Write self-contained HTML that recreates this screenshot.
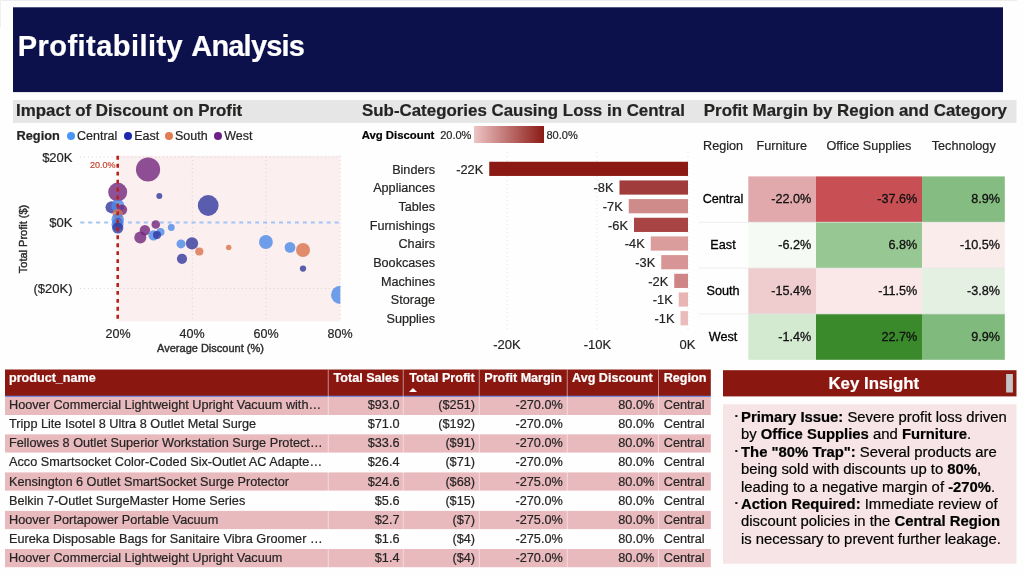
<!DOCTYPE html>
<html lang="en"><head><meta charset="utf-8"><title>Profitability Analysis</title>
<style>
html,body{margin:0;padding:0;background:#fefefe;}
body{width:1024px;height:577px;position:relative;overflow:hidden;font-family:"Liberation Sans",sans-serif;}
.t{position:absolute;white-space:nowrap;line-height:20px;height:20px;-webkit-text-stroke:0.2px currentColor;}
.b{position:absolute;}
.sx{display:inline-block;transform-origin:0 50%;}
</style></head><body>

<svg class="b" style="left:0;top:0" width="1024" height="577" viewBox="0 0 1024 577">
<rect x="0" y="0" width="1017" height="1" fill="#ededed"/>
<rect x="0" y="0" width="1" height="27" fill="#f0f0f0"/>
<rect x="13" y="7.3" width="990" height="84.8" fill="#0c114b"/>
<rect x="13" y="100.1" width="1003.5" height="22.8" fill="#e6e6e6"/>
<rect x="5" y="369.5" width="705.8" height="26.6" fill="#8a1811"/>
<rect x="5" y="395.75" width="705.8" height="1.25" fill="#5b80e0"/>
<rect x="5" y="396.80" width="705.8" height="18.2" fill="#e8b9bd"/>
<rect x="5" y="434.35" width="705.8" height="18.2" fill="#e8b9bd"/>
<rect x="5" y="472.40" width="705.8" height="18.2" fill="#e8b9bd"/>
<rect x="5" y="510.90" width="705.8" height="18.2" fill="#e8b9bd"/>
<rect x="5" y="549.00" width="705.8" height="18.2" fill="#e8b9bd"/>
<rect x="327.75" y="369.5" width="1" height="198" fill="rgb(255,255,255)" fill-opacity="0.5"/>
<rect x="402.75" y="369.5" width="1" height="198" fill="rgb(255,255,255)" fill-opacity="0.5"/>
<rect x="478.75" y="369.5" width="1" height="198" fill="rgb(255,255,255)" fill-opacity="0.5"/>
<rect x="566.75" y="369.5" width="1" height="198" fill="rgb(255,255,255)" fill-opacity="0.5"/>
<rect x="658.0" y="369.5" width="1" height="198" fill="rgb(255,255,255)" fill-opacity="0.5"/>
<rect x="723" y="370.2" width="293.5" height="26.2" fill="#8a1811"/>
<rect x="1006.1" y="374" width="6.8" height="18.5" fill="#c4c4c4"/>
<rect x="723" y="404.3" width="293.5" height="159.4" fill="#f6e4e6"/>
</svg>
<div class="t title" style="left:17.8px;top:36.2px;font-size:29px;font-weight:bold;color:#fff;"><span style="letter-spacing:0.45px">Profitability</span> <span style="letter-spacing:-0.8px">Analysis</span></div>
<div class="t " style="left:16.1px;top:100.5px;font-size:16.9px;font-weight:bold;color:#252423;">Impact of Discount on Profit</div>
<div class="t " style="left:362px;top:100.5px;font-size:16.9px;font-weight:bold;color:#252423;">Sub-Categories Causing Loss in Central</div>
<div class="t " style="left:703.8px;top:100.5px;font-size:16.9px;font-weight:bold;color:#252423;">Profit Margin by Region and Category</div>
<div class="t " style="left:16.5px;top:126.0px;font-size:12.8px;font-weight:bold;color:#252423;">Region</div>
<div class="b" style="left:67.25px;top:132px;width:8px;height:8px;border-radius:50%;background:#4a96f8"></div>
<div class="t " style="left:77px;top:126.0px;font-size:12.5px;color:#252423;">Central</div>
<div class="b" style="left:123.5px;top:132px;width:8px;height:8px;border-radius:50%;background:#1a2aa8"></div>
<div class="t " style="left:134.25px;top:126.0px;font-size:12.5px;color:#252423;">East</div>
<div class="b" style="left:164.75px;top:132px;width:8px;height:8px;border-radius:50%;background:#e07b53"></div>
<div class="t " style="left:175px;top:126.0px;font-size:12.5px;color:#252423;">South</div>
<div class="b" style="left:213.5px;top:132px;width:8px;height:8px;border-radius:50%;background:#6f2088"></div>
<div class="t " style="left:224.25px;top:126.0px;font-size:12.5px;color:#252423;">West</div>
<svg class="b" style="left:0;top:0" width="1024" height="577" viewBox="0 0 1024 577">
<rect x="118" y="155.8" width="222.3" height="165.7" fill="#fbefef"/>
<line x1="80" y1="157.1" x2="340" y2="157.1" stroke="#dcd4d4" stroke-width="1" stroke-dasharray="1 2.95"/>
<line x1="80" y1="288.5" x2="340" y2="288.5" stroke="#dcd4d4" stroke-width="1" stroke-dasharray="1 2.95"/>
<line x1="192.3" y1="156" x2="192.3" y2="321.5" stroke="#e0d0d0" stroke-width="1" stroke-dasharray="1 2.95"/>
<line x1="266.2" y1="156" x2="266.2" y2="321.5" stroke="#e0d0d0" stroke-width="1" stroke-dasharray="1 2.95"/>
<line x1="340.2" y1="156" x2="340.2" y2="321.5" stroke="#e0d0d0" stroke-width="1" stroke-dasharray="1 2.95"/>
<line x1="80.25" y1="222.5" x2="340" y2="222.5" stroke="#a3c3f6" stroke-width="2.2" stroke-dasharray="4 3.95"/>
<clipPath id="pc"><rect x="80" y="150" width="260.3" height="171.5"/></clipPath><g clip-path="url(#pc)">
<circle cx="148.05" cy="169.5" r="12.1" fill="#73257c" fill-opacity="0.8"/>
<circle cx="117.7" cy="192.1" r="9.5" fill="#73257c" fill-opacity="0.8"/>
<circle cx="159.3" cy="195.9" r="3.0" fill="#32379d" fill-opacity="0.8"/>
<circle cx="208.2" cy="205.5" r="10.4" fill="#32379d" fill-opacity="0.8"/>
<circle cx="111.6" cy="207.3" r="6.1" fill="#32379d" fill-opacity="0.8"/>
<circle cx="117.9" cy="206" r="6.6" fill="#4b88e8" fill-opacity="0.8"/>
<circle cx="122" cy="209.8" r="5.2" fill="#73257c" fill-opacity="0.8"/>
<circle cx="117.7" cy="214" r="5.2" fill="#d9734b" fill-opacity="0.8"/>
<circle cx="117.7" cy="219.3" r="6.2" fill="#4b88e8" fill-opacity="0.8"/>
<circle cx="118" cy="222.5" r="4.5" fill="#32379d" fill-opacity="0.8"/>
<circle cx="117.5" cy="224.5" r="6" fill="#4b88e8" fill-opacity="0.8"/>
<circle cx="117.7" cy="228" r="5.6" fill="#32379d" fill-opacity="0.8"/>
<circle cx="155.8" cy="224.5" r="4.3" fill="#73257c" fill-opacity="0.8"/>
<circle cx="144.9" cy="230.2" r="5.2" fill="#73257c" fill-opacity="0.8"/>
<circle cx="140.3" cy="237.5" r="6" fill="#73257c" fill-opacity="0.8"/>
<circle cx="171.3" cy="227.5" r="3.4" fill="#4b88e8" fill-opacity="0.8"/>
<circle cx="160.5" cy="232" r="4" fill="#4b88e8" fill-opacity="0.8"/>
<circle cx="153.6" cy="235.4" r="5.2" fill="#4b88e8" fill-opacity="0.8"/>
<circle cx="157" cy="235" r="4" fill="#32379d" fill-opacity="0.8"/>
<circle cx="181" cy="243.9" r="4.5" fill="#4b88e8" fill-opacity="0.8"/>
<circle cx="192" cy="243.3" r="6.15" fill="#32379d" fill-opacity="0.8"/>
<circle cx="199.3" cy="251.5" r="4.1" fill="#d9734b" fill-opacity="0.8"/>
<circle cx="182" cy="258.8" r="5.1" fill="#32379d" fill-opacity="0.8"/>
<circle cx="228.7" cy="247.5" r="2.7" fill="#d9734b" fill-opacity="0.8"/>
<circle cx="265.9" cy="242" r="6.9" fill="#4b88e8" fill-opacity="0.8"/>
<circle cx="290" cy="247.4" r="5.35" fill="#4b88e8" fill-opacity="0.8"/>
<circle cx="303" cy="250" r="7" fill="#d9734b" fill-opacity="0.8"/>
<circle cx="303" cy="268.6" r="3.15" fill="#32379d" fill-opacity="0.8"/>
<circle cx="340.1" cy="294.9" r="9.1" fill="#4b88e8" fill-opacity="0.8"/>
</g>
<line x1="117.7" y1="155.8" x2="117.7" y2="321.3" stroke="#b9221a" stroke-width="2.6" stroke-dasharray="3.9 4.05"/>
</svg>
<div class="t " style="right:951.5px;top:148.0px;font-size:13px;color:#252423;">$20K</div>
<div class="t " style="right:951.5px;top:213.0px;font-size:13px;color:#252423;">$0K</div>
<div class="t " style="right:951.5px;top:279.0px;font-size:13px;color:#252423;">($20K)</div>
<div class="t " style="left:-82px;width:400px;text-align:center;top:324.0px;font-size:12.5px;color:#252423;">20%</div>
<div class="t " style="left:-8px;width:400px;text-align:center;top:324.0px;font-size:12.5px;color:#252423;">40%</div>
<div class="t " style="left:66px;width:400px;text-align:center;top:324.0px;font-size:12.5px;color:#252423;">60%</div>
<div class="t " style="left:140px;width:400px;text-align:center;top:324.0px;font-size:12.5px;color:#252423;">80%</div>
<div class="t " style="left:10.5px;width:400px;text-align:center;top:337.8px;font-size:11.0px;color:#2c2c2c;-webkit-text-stroke:0.4px #2c2c2c;">Average Discount (%)</div>
<div class="t" style="left:-177px;width:400px;text-align:center;top:228.7px;font-size:11.0px;color:#2c2c2c;-webkit-text-stroke:0.4px #2c2c2c;transform:rotate(-90deg)">Total Profit ($)</div>
<div class="t " style="right:908.4px;top:154.9px;font-size:9px;color:#c4452f;">20.0%</div>
<div class="t " style="left:361.7px;top:125.0px;font-size:11.35px;font-weight:bold;color:#000;">Avg Discount</div>
<div class="t " style="left:440.2px;top:125.0px;font-size:11px;color:#252423;">20.0%</div>
<div class="b" style="left:474px;top:125.5px;width:70px;height:17.5px;background:linear-gradient(90deg,#eec4c4,#8b1a15)"></div>
<div class="t " style="left:546.5px;top:125.0px;font-size:11px;color:#252423;">80.0%</div>
<svg class="b" style="left:0;top:0" width="1024" height="577" viewBox="0 0 1024 577">
<line x1="507" y1="152" x2="507" y2="332" stroke="#e4e4e4" stroke-width="1" stroke-dasharray="1 3"/>
<line x1="597" y1="152" x2="597" y2="332" stroke="#e4e4e4" stroke-width="1" stroke-dasharray="1 3"/>
<line x1="688" y1="152" x2="688" y2="332" stroke="#e4e4e4" stroke-width="1" stroke-dasharray="1 3"/>
<rect x="489.25" y="161.75" width="198.75" height="14.2" fill="#8b1a15"/>
<rect x="619.5" y="180.42" width="68.5" height="14.2" fill="#a03c3b"/>
<rect x="628.75" y="199.09" width="59.25" height="14.2" fill="#cf8a8a"/>
<rect x="634" y="217.76" width="54" height="14.2" fill="#a84443"/>
<rect x="650.75" y="236.43" width="37.25" height="14.2" fill="#db9c9c"/>
<rect x="661.25" y="255.10" width="26.75" height="14.2" fill="#d89595"/>
<rect x="674.25" y="273.77" width="13.75" height="14.2" fill="#cf8585"/>
<rect x="678.75" y="292.44" width="9.25" height="14.2" fill="#e8b4b4"/>
<rect x="680.5" y="311.11" width="7.5" height="14.2" fill="#eabcbc"/>
</svg>
<div class="t " style="right:589px;top:159.6px;font-size:12.65px;color:#252423;">Binders</div>
<div class="t " style="right:540.75px;top:159.5px;font-size:12.8px;color:#252423;">-22K</div>
<div class="t " style="right:589px;top:178.27px;font-size:12.65px;color:#252423;">Appliances</div>
<div class="t " style="right:410.5px;top:178.17000000000002px;font-size:12.8px;color:#252423;">-8K</div>
<div class="t " style="right:589px;top:196.94px;font-size:12.65px;color:#252423;">Tables</div>
<div class="t " style="right:401.25px;top:196.84px;font-size:12.8px;color:#252423;">-7K</div>
<div class="t " style="right:589px;top:215.60999999999999px;font-size:12.65px;color:#252423;">Furnishings</div>
<div class="t " style="right:396px;top:215.51px;font-size:12.8px;color:#252423;">-6K</div>
<div class="t " style="right:589px;top:234.28px;font-size:12.65px;color:#252423;">Chairs</div>
<div class="t " style="right:379.25px;top:234.18px;font-size:12.8px;color:#252423;">-4K</div>
<div class="t " style="right:589px;top:252.95000000000005px;font-size:12.65px;color:#252423;">Bookcases</div>
<div class="t " style="right:368.75px;top:252.85000000000002px;font-size:12.8px;color:#252423;">-3K</div>
<div class="t " style="right:589px;top:271.62px;font-size:12.65px;color:#252423;">Machines</div>
<div class="t " style="right:355.75px;top:271.52px;font-size:12.8px;color:#252423;">-2K</div>
<div class="t " style="right:589px;top:290.29px;font-size:12.65px;color:#252423;">Storage</div>
<div class="t " style="right:351.25px;top:290.19px;font-size:12.8px;color:#252423;">-1K</div>
<div class="t " style="right:589px;top:308.96000000000004px;font-size:12.65px;color:#252423;">Supplies</div>
<div class="t " style="right:349.5px;top:308.86px;font-size:12.8px;color:#252423;">-1K</div>
<div class="t " style="left:307px;width:400px;text-align:center;top:334.5px;font-size:13px;color:#252423;">-20K</div>
<div class="t " style="left:397.5px;width:400px;text-align:center;top:334.5px;font-size:13px;color:#252423;">-10K</div>
<div class="t " style="left:487.5px;width:400px;text-align:center;top:334.5px;font-size:13px;color:#252423;">0K</div>
<div class="t " style="left:703px;top:135.8px;font-size:12.65px;color:#252423;">Region</div>
<div class="t " style="left:756.5px;top:135.8px;font-size:12.65px;color:#252423;">Furniture</div>
<div class="t " style="left:826.5px;top:135.8px;font-size:12.65px;color:#252423;">Office Supplies</div>
<div class="t " style="left:931.75px;top:135.8px;font-size:12.65px;color:#252423;">Technology</div>
<svg class="b" style="left:0;top:0" width="1024" height="577" viewBox="0 0 1024 577">
<rect x="748.3" y="176.4" width="67.70" height="45.85" fill="#e2a9ac"/>
<rect x="816" y="176.4" width="106.00" height="45.85" fill="#c85055"/>
<rect x="922" y="176.4" width="82.80" height="45.85" fill="#85bc81"/>
<rect x="748.3" y="222.25" width="67.70" height="45.85" fill="#f5faf4"/>
<rect x="816" y="222.25" width="106.00" height="45.85" fill="#97c792"/>
<rect x="922" y="222.25" width="82.80" height="45.85" fill="#fbecec"/>
<line x1="699" y1="222.25" x2="1005" y2="222.25" stroke="#e4e4e4" stroke-width="0.8" stroke-opacity="0.8"/>
<rect x="748.3" y="268.1" width="67.70" height="45.85" fill="#efccce"/>
<rect x="816" y="268.1" width="106.00" height="45.85" fill="#fae8e9"/>
<rect x="922" y="268.1" width="82.80" height="45.85" fill="#e4f0e2"/>
<line x1="699" y1="268.1" x2="1005" y2="268.1" stroke="#e4e4e4" stroke-width="0.8" stroke-opacity="0.8"/>
<rect x="748.3" y="313.95" width="67.70" height="45.85" fill="#d3e9d0"/>
<rect x="816" y="313.95" width="106.00" height="45.85" fill="#3a8a2c"/>
<rect x="922" y="313.95" width="82.80" height="45.85" fill="#80ba7c"/>
<line x1="699" y1="313.95" x2="1005" y2="313.95" stroke="#e4e4e4" stroke-width="0.8" stroke-opacity="0.8"/>
</svg>
<div class="t " style="left:523px;width:400px;text-align:center;top:188.825px;font-size:12.65px;color:#000;-webkit-text-stroke:0.3px #000;">Central</div>
<div class="t " style="right:212.70000000000005px;top:188.825px;font-size:12.65px;color:#111;-webkit-text-stroke:0.3px #111;">-22.0%</div>
<div class="t " style="right:106.70000000000005px;top:188.825px;font-size:12.65px;color:#111;-webkit-text-stroke:0.3px #111;">-37.6%</div>
<div class="t " style="right:23.90000000000009px;top:188.825px;font-size:12.65px;color:#111;-webkit-text-stroke:0.3px #111;">8.9%</div>
<div class="t " style="left:523px;width:400px;text-align:center;top:234.675px;font-size:12.65px;color:#000;-webkit-text-stroke:0.3px #000;">East</div>
<div class="t " style="right:212.70000000000005px;top:234.675px;font-size:12.65px;color:#111;-webkit-text-stroke:0.3px #111;">-6.2%</div>
<div class="t " style="right:106.70000000000005px;top:234.675px;font-size:12.65px;color:#111;-webkit-text-stroke:0.3px #111;">6.8%</div>
<div class="t " style="right:23.90000000000009px;top:234.675px;font-size:12.65px;color:#111;-webkit-text-stroke:0.3px #111;">-10.5%</div>
<div class="t " style="left:523px;width:400px;text-align:center;top:281.025px;font-size:12.65px;color:#000;-webkit-text-stroke:0.3px #000;">South</div>
<div class="t " style="right:212.70000000000005px;top:281.025px;font-size:12.65px;color:#111;-webkit-text-stroke:0.3px #111;">-15.4%</div>
<div class="t " style="right:106.70000000000005px;top:281.025px;font-size:12.65px;color:#111;-webkit-text-stroke:0.3px #111;">-11.5%</div>
<div class="t " style="right:23.90000000000009px;top:281.025px;font-size:12.65px;color:#111;-webkit-text-stroke:0.3px #111;">-3.8%</div>
<div class="t " style="left:523px;width:400px;text-align:center;top:326.575px;font-size:12.65px;color:#000;-webkit-text-stroke:0.3px #000;">West</div>
<div class="t " style="right:212.70000000000005px;top:326.575px;font-size:12.65px;color:#111;-webkit-text-stroke:0.3px #111;">-1.4%</div>
<div class="t " style="right:106.70000000000005px;top:326.575px;font-size:12.65px;color:#111;-webkit-text-stroke:0.3px #111;">22.7%</div>
<div class="t " style="right:23.90000000000009px;top:326.575px;font-size:12.65px;color:#111;-webkit-text-stroke:0.3px #111;">9.9%</div>
<div class="t " style="left:9px;top:368.3px;font-size:12.6px;font-weight:bold;color:#fff;">product_name</div>
<div class="t " style="left:333.5px;top:368.3px;font-size:12.6px;font-weight:bold;color:#fff;">Total Sales</div>
<div class="t " style="left:409.25px;top:368.3px;font-size:12.6px;font-weight:bold;color:#fff;">Total Profit</div>
<div class="t " style="left:484.25px;top:368.3px;font-size:12.6px;font-weight:bold;color:#fff;">Profit Margin</div>
<div class="t " style="left:572px;top:368.3px;font-size:12.6px;font-weight:bold;color:#fff;">Avg Discount</div>
<div class="t " style="left:663.75px;top:368.3px;font-size:12.6px;font-weight:bold;color:#fff;">Region</div>
<div class="b" style="left:409.25px;top:388px;width:0;height:0;border-left:4px solid transparent;border-right:4px solid transparent;border-bottom:4.5px solid #fff"></div>
<div class="t " style="left:9px;top:395.3px;font-size:12.7px;color:#252423;">Hoover Commercial Lightweight Upright Vacuum with…</div>
<div class="t " style="right:624.5px;top:395.3px;font-size:12.7px;color:#252423;">$93.0</div>
<div class="t " style="right:549px;top:395.3px;font-size:12.7px;color:#252423;">($251)</div>
<div class="t " style="right:461.25px;top:395.3px;font-size:12.7px;color:#252423;">-270.0%</div>
<div class="t " style="right:369.75px;top:395.3px;font-size:12.7px;color:#252423;">80.0%</div>
<div class="t " style="left:663.75px;top:395.3px;font-size:12.7px;color:#252423;">Central</div>
<div class="t " style="left:9px;top:414.3px;font-size:12.7px;color:#252423;">Tripp Lite Isotel 8 Ultra 8 Outlet Metal Surge</div>
<div class="t " style="right:624.5px;top:414.3px;font-size:12.7px;color:#252423;">$71.0</div>
<div class="t " style="right:549px;top:414.3px;font-size:12.7px;color:#252423;">($192)</div>
<div class="t " style="right:461.25px;top:414.3px;font-size:12.7px;color:#252423;">-270.0%</div>
<div class="t " style="right:369.75px;top:414.3px;font-size:12.7px;color:#252423;">80.0%</div>
<div class="t " style="left:663.75px;top:414.3px;font-size:12.7px;color:#252423;">Central</div>
<div class="t " style="left:9px;top:433.3px;font-size:12.7px;color:#252423;">Fellowes 8 Outlet Superior Workstation Surge Protect…</div>
<div class="t " style="right:624.5px;top:433.3px;font-size:12.7px;color:#252423;">$33.6</div>
<div class="t " style="right:549px;top:433.3px;font-size:12.7px;color:#252423;">($91)</div>
<div class="t " style="right:461.25px;top:433.3px;font-size:12.7px;color:#252423;">-270.0%</div>
<div class="t " style="right:369.75px;top:433.3px;font-size:12.7px;color:#252423;">80.0%</div>
<div class="t " style="left:663.75px;top:433.3px;font-size:12.7px;color:#252423;">Central</div>
<div class="t " style="left:9px;top:452.3px;font-size:12.7px;color:#252423;">Acco Smartsocket Color-Coded Six-Outlet AC Adapte…</div>
<div class="t " style="right:624.5px;top:452.3px;font-size:12.7px;color:#252423;">$26.4</div>
<div class="t " style="right:549px;top:452.3px;font-size:12.7px;color:#252423;">($71)</div>
<div class="t " style="right:461.25px;top:452.3px;font-size:12.7px;color:#252423;">-270.0%</div>
<div class="t " style="right:369.75px;top:452.3px;font-size:12.7px;color:#252423;">80.0%</div>
<div class="t " style="left:663.75px;top:452.3px;font-size:12.7px;color:#252423;">Central</div>
<div class="t " style="left:9px;top:472.3px;font-size:12.7px;color:#252423;">Kensington 6 Outlet SmartSocket Surge Protector</div>
<div class="t " style="right:624.5px;top:472.3px;font-size:12.7px;color:#252423;">$24.6</div>
<div class="t " style="right:549px;top:472.3px;font-size:12.7px;color:#252423;">($68)</div>
<div class="t " style="right:461.25px;top:472.3px;font-size:12.7px;color:#252423;">-275.0%</div>
<div class="t " style="right:369.75px;top:472.3px;font-size:12.7px;color:#252423;">80.0%</div>
<div class="t " style="left:663.75px;top:472.3px;font-size:12.7px;color:#252423;">Central</div>
<div class="t " style="left:9px;top:491.3px;font-size:12.7px;color:#252423;">Belkin 7-Outlet SurgeMaster Home Series</div>
<div class="t " style="right:624.5px;top:491.3px;font-size:12.7px;color:#252423;">$5.6</div>
<div class="t " style="right:549px;top:491.3px;font-size:12.7px;color:#252423;">($15)</div>
<div class="t " style="right:461.25px;top:491.3px;font-size:12.7px;color:#252423;">-270.0%</div>
<div class="t " style="right:369.75px;top:491.3px;font-size:12.7px;color:#252423;">80.0%</div>
<div class="t " style="left:663.75px;top:491.3px;font-size:12.7px;color:#252423;">Central</div>
<div class="t " style="left:9px;top:510.29999999999995px;font-size:12.7px;color:#252423;">Hoover Portapower Portable Vacuum</div>
<div class="t " style="right:624.5px;top:510.29999999999995px;font-size:12.7px;color:#252423;">$2.7</div>
<div class="t " style="right:549px;top:510.29999999999995px;font-size:12.7px;color:#252423;">($7)</div>
<div class="t " style="right:461.25px;top:510.29999999999995px;font-size:12.7px;color:#252423;">-275.0%</div>
<div class="t " style="right:369.75px;top:510.29999999999995px;font-size:12.7px;color:#252423;">80.0%</div>
<div class="t " style="left:663.75px;top:510.29999999999995px;font-size:12.7px;color:#252423;">Central</div>
<div class="t " style="left:9px;top:529.3px;font-size:12.7px;color:#252423;">Eureka Disposable Bags for Sanitaire Vibra Groomer …</div>
<div class="t " style="right:624.5px;top:529.3px;font-size:12.7px;color:#252423;">$1.6</div>
<div class="t " style="right:549px;top:529.3px;font-size:12.7px;color:#252423;">($4)</div>
<div class="t " style="right:461.25px;top:529.3px;font-size:12.7px;color:#252423;">-275.0%</div>
<div class="t " style="right:369.75px;top:529.3px;font-size:12.7px;color:#252423;">80.0%</div>
<div class="t " style="left:663.75px;top:529.3px;font-size:12.7px;color:#252423;">Central</div>
<div class="t " style="left:9px;top:548.3px;font-size:12.7px;color:#252423;">Hoover Commercial Lightweight Upright Vacuum</div>
<div class="t " style="right:624.5px;top:548.3px;font-size:12.7px;color:#252423;">$1.4</div>
<div class="t " style="right:549px;top:548.3px;font-size:12.7px;color:#252423;">($4)</div>
<div class="t " style="right:461.25px;top:548.3px;font-size:12.7px;color:#252423;">-270.0%</div>
<div class="t " style="right:369.75px;top:548.3px;font-size:12.7px;color:#252423;">80.0%</div>
<div class="t " style="left:663.75px;top:548.3px;font-size:12.7px;color:#252423;">Central</div>
<div class="t " style="left:673.8px;width:400px;text-align:center;top:374.0px;font-size:16.85px;font-weight:bold;color:#fff;">Key Insight</div>
<div class="t " style="left:741.0px;top:407.0px;font-size:14.85px;color:#000;"><b>Primary Issue:</b> Severe profit loss driven</div>
<div class="t " style="left:734.4px;top:405.9px;font-size:13px;font-weight:bold;color:#111;">·</div>
<div class="t " style="left:741.0px;top:424.4px;font-size:14.85px;color:#000;">by <b>Office Supplies</b> and <b>Furniture</b>.</div>
<div class="t " style="left:741.0px;top:441.8px;font-size:14.85px;color:#000;"><b>The "80% Trap":</b> Several products are</div>
<div class="t " style="left:734.4px;top:440.7px;font-size:13px;font-weight:bold;color:#111;">·</div>
<div class="t " style="left:741.0px;top:459.2px;font-size:14.85px;color:#000;">being sold with discounts up to <b>80%</b>,</div>
<div class="t " style="left:741.0px;top:476.6px;font-size:14.85px;color:#000;">leading to a negative margin of <b>-270%</b>.</div>
<div class="t " style="left:741.0px;top:494.0px;font-size:14.85px;color:#000;"><b>Action Required:</b> Immediate review of</div>
<div class="t " style="left:734.4px;top:492.9px;font-size:13px;font-weight:bold;color:#111;">·</div>
<div class="t " style="left:741.0px;top:511.4px;font-size:14.85px;color:#000;">discount policies in the <b>Central Region</b></div>
<div class="t " style="left:741.0px;top:528.8px;font-size:14.85px;color:#000;">is necessary to prevent further leakage.</div>
</body></html>
